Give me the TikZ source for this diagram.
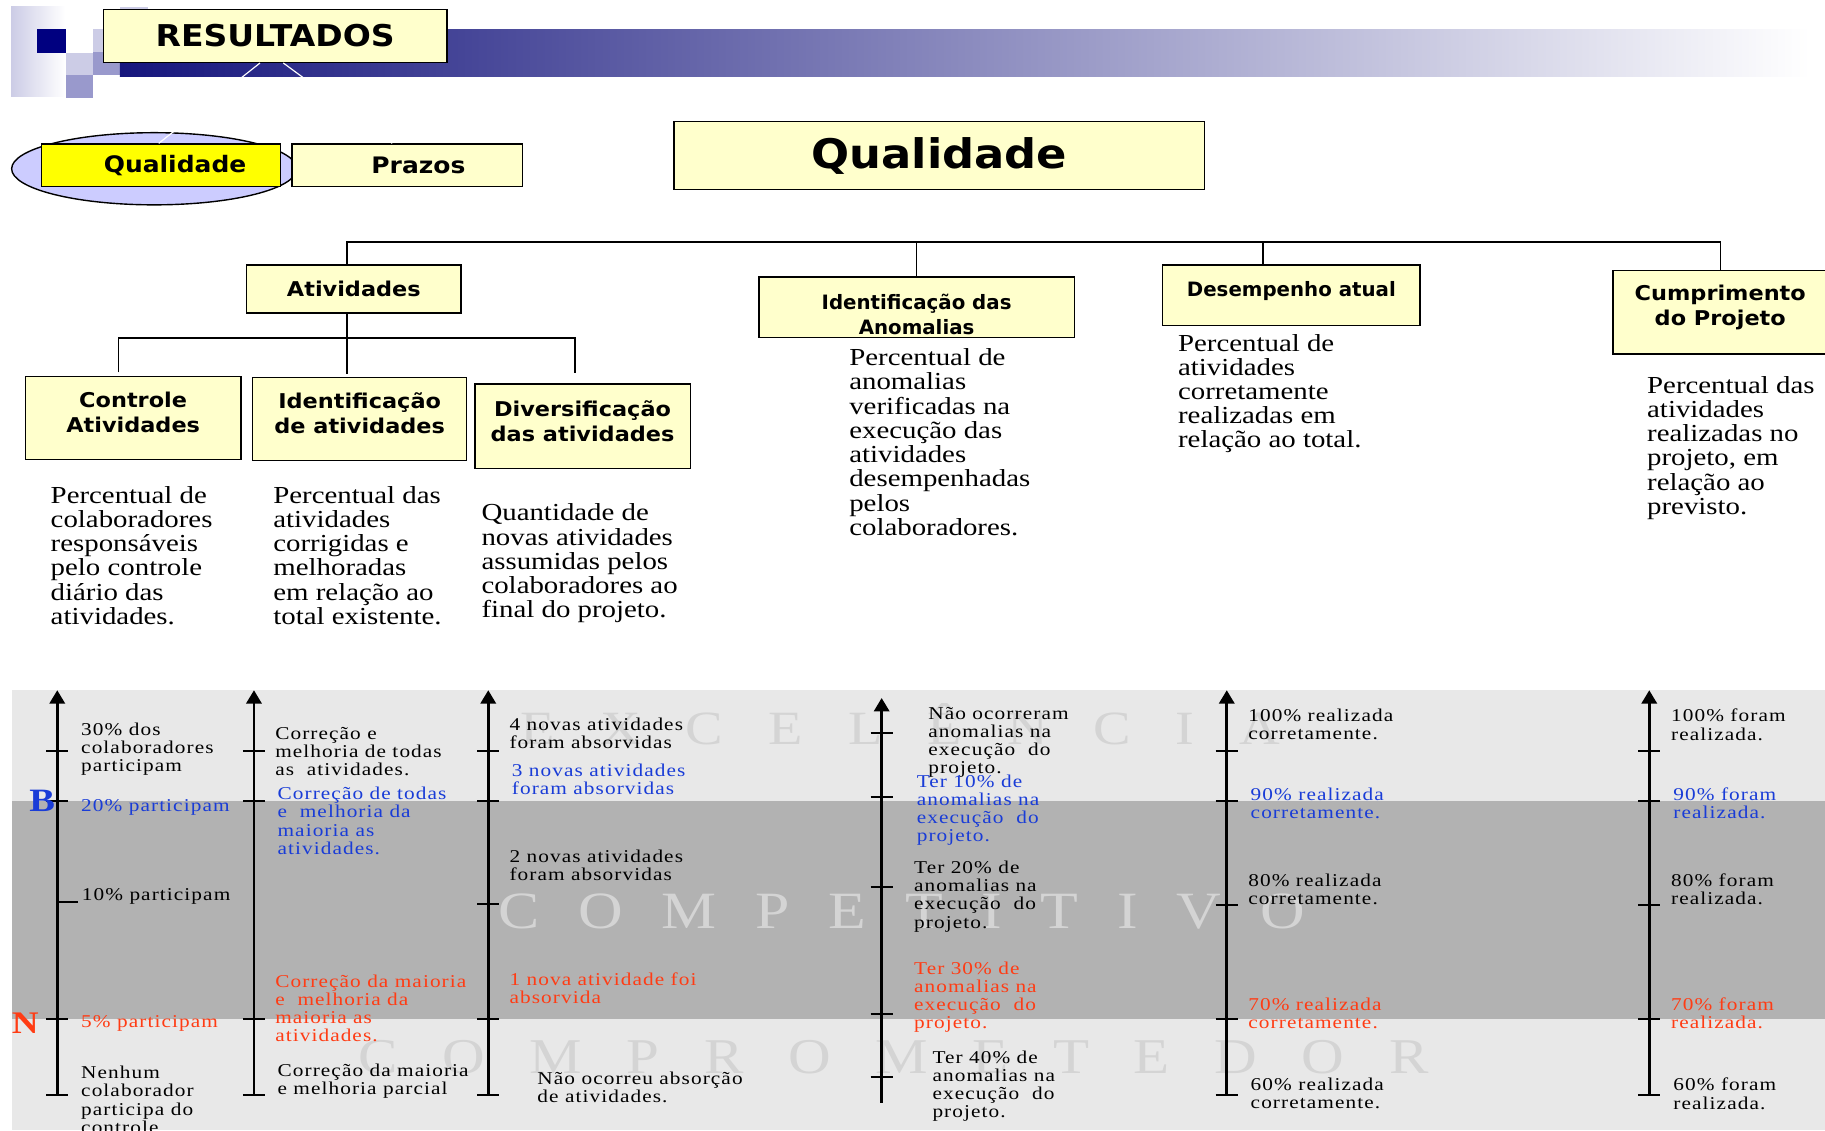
\documentclass[tikz,border=0pt]{standalone}
\usepackage{fontspec}
\setmainfont{Liberation Serif}
\newfontfamily\boxfont[FakeStretch=1.1]{DejaVu Sans}
\newfontfamily\condfont{DejaVu Sans}
\newfontfamily\descfont[FakeStretch=1.18]{Liberation Serif}
\newfontfamily\levelfont[FakeStretch=1.18,LetterSpace=6]{Liberation Serif}
\usetikzlibrary{arrows.meta}

\definecolor{boxyellow}{RGB}{255,255,204}
\definecolor{hiyellow}{RGB}{255,255,0}
\definecolor{lavender}{RGB}{204,204,255}
\definecolor{navyblue}{RGB}{0,0,128}
\definecolor{lilac}{RGB}{204,204,230}
\definecolor{lilacdark}{RGB}{153,153,204}
\definecolor{barleft}{RGB}{22,22,125}
\definecolor{barmid}{RGB}{150,150,185}
\definecolor{bandlight}{RGB}{232,232,232}
\definecolor{banddark}{RGB}{178,178,178}
\definecolor{goodblue}{RGB}{25,60,215}
\definecolor{badred}{RGB}{255,60,20}
\definecolor{wmgray}{RGB}{212,212,212}

\newcommand{\espace}[2]{\gdef\wmsep{}\foreach \lettre in {#2}{\wmsep\lettre\gdef\wmsep{\hspace{#1}}}}

\begin{document}
\begin{tikzpicture}[x=1pt, y=-1pt,
  boite/.style={draw, line width=1.2pt, fill=boxyellow, align=center, inner sep=1pt},
  etiq/.style={font=\boxfont\bfseries\fontsize{17.5}{21.5}\selectfont},
  etiqn/.style={font=\condfont\bfseries\fontsize{17}{21.5}\selectfont},
  lien/.style={line width=1.2pt},
  desc/.style={anchor=west, align=left, inner sep=0pt, font=\descfont\fontsize{21}{20.8}\selectfont},
  niveau/.style={anchor=west, align=left, inner sep=0pt, font=\levelfont\fontsize{15.5}{15.6}\selectfont},
  bon/.style={niveau, text=goodblue},
  mau/.style={niveau, text=badred},
  axe/.style={line width=2.5pt, -{Triangle[length=11.5pt, width=13pt]}},
  marque/.style={line width=1.8pt},
  filigrane/.style={anchor=base west, inner sep=0pt, text=wmgray}]
  \useasboundingbox (0,0) rectangle (1568,971);
  \clip (0,0) rectangle (1568,971);

  % en-tete
  \shade[left color=lilac, right color=white] (9.5,5.7) rectangle (55.8,82.5);
  \fill[navyblue] (31.5,25.2) rectangle (56.4,45.3);
  \fill[lilac] (56.4,45.3) rectangle (79.6,64.4);
  \fill[lilacdark] (56.4,64.4) rectangle (79.6,83.9);
  \fill[lilac] (79.6,25.2) rectangle (103,44.4);
  \fill[lilacdark] (79.6,44.4) rectangle (103,64.4);
  \fill[lilac] (103,5.7) rectangle (126.9,25.2);
  \shade[left color=barleft, middle color=barmid, right color=white] (103,25.2) rectangle (1555,65.3);
  \draw[fill=lavender, line width=1.2pt] (132.5,145) ellipse [x radius=122.5pt, y radius=31pt];

  \node[boite, minimum width=295pt, minimum height=45.5pt,
        font=\boxfont\bfseries\fontsize{25.8}{28}\selectfont] (resul) at (236.4,30.75) {RESULTADOS};
  \node[boite, fill=hiyellow, minimum width=205pt, minimum height=36.3pt,
        font=\boxfont\bfseries\fontsize{19.5}{22}\selectfont] (qualp) at (138.4,141.9) {\hspace*{24pt}Qualidade};
  \node[boite, minimum width=198pt, minimum height=36.3pt,
        font=\boxfont\bfseries\fontsize{19.5}{22}\selectfont] (prazos) at (350,141.9) {\hspace*{19pt}Prazos};
  \draw[white, line width=1pt] ([xshift=-13pt]resul.south) -- ([xshift=-2pt]qualp.north);
  \draw[white, line width=1pt] ([xshift=7pt]resul.south) -- ([xshift=-13pt]prazos.north);

  % arbre
  \node[boite, minimum width=456pt, minimum height=58.5pt,
        font=\boxfont\bfseries\fontsize{35}{38}\selectfont] (qualite) at (807,133.7) {Qualidade};
  \node[boite, etiq, minimum width=184pt, minimum height=41.3pt] (ativ) at (304,248.4) {Atividades};
  \node[boite, etiq, minimum width=185.3pt, minimum height=71pt] (ctrl) at (114.4,359.1) {Controle\\Atividades\\[-11.5pt]\mbox{}};
  \node[boite, etiq, minimum width=184pt, minimum height=71.3pt] (ident) at (309,360.2) {Identificação\\de atividades\\[-11.5pt]\mbox{}};
  \node[boite, etiq, minimum width=185pt, minimum height=72.7pt] (divers) at (500.5,366.4) {Diversificação\\das atividades\\[-11.5pt]\mbox{}};
  \node[boite, etiqn, minimum width=271pt, minimum height=52pt] (anom) at (787.5,264) {\mbox{}\\[3.5pt]Identificação das\\Anomalias};
  \node[boite, etiqn, minimum width=221pt, text height=25.9pt, text depth=24.1pt] (desemp) at (1109.5,253.75) {Desempenho atual};
  \node[boite, etiq, minimum width=184pt, minimum height=71.5pt] (cump) at (1478,268.3) {Cumprimento\\do Projeto\\[-9pt]\mbox{}};

  \coordinate (barre) at (1478,208);
  \draw[lien] ([xshift=-6pt]ativ.north) |- (barre) -- (cump.north);
  \draw[lien] (anom.north) -- (anom.north |- barre);
  \draw[lien] ([xshift=-24.5pt]desemp.north) -- ++(0,-19.7);
  \draw[lien] ([xshift=-6pt]ativ.south) -- ++(0,20.8) coordinate (fourche);
  \draw[lien, shorten <=3pt, shorten >=9pt] ([xshift=-12.4pt]ctrl.north) |- (fourche) -| ([xshift=-6.5pt]divers.north);
  \draw[lien, shorten <=3pt] ([xshift=-11pt]ident.north) -- (fourche);

  % definitions
  \node[desc] (d-ctrl) at (43.4,477.3) {Percentual de\\colaboradores\\responsáveis\\pelo controle\\diário das\\atividades.};
  \node[desc] (d-ident) at (234.7,477.3) {Percentual das\\atividades\\corrigidas e\\melhoradas\\em relação ao\\total existente.};
  \node[desc] (d-divers) at (413.5,484) {Quantidade de\\novas atividades\\assumidas pelos\\colaboradores ao\\final do projeto.};
  \node[desc] (d-anom) at (729.5,379.9) {Percentual de\\anomalias\\verificadas na\\execução das\\atividades\\desempenhadas\\pelos\\colaboradores.};
  \node[desc] (d-desemp) at (1012,338.2) {Percentual de\\atividades\\corretamente\\realizadas em\\relação ao total.};
  \node[desc] (d-cump) at (1415,384.9) {Percentual das\\atividades\\realizadas no\\projeto, em\\relação ao\\previsto.};

  % bandes
  \fill[bandlight] (10,593) rectangle (1568,971);
  \fill[banddark] (10,688) rectangle (1568,875.5);

  % filigrane
  \node[filigrane, font=\descfont\fontsize{41}{41}\selectfont] (excel) at (447,640) {\espace{38.8pt}{E,X,C,E,L,Ê,N,C,I,A}};
  \node[filigrane, font=\descfont\fontsize{45}{45}\selectfont] (compet) at (428,797.5) {\espace{33.3pt}{C,O,M,P,E,T,I,T,I,V,O}};
  \node[filigrane, font=\descfont\fontsize{43}{43}\selectfont] (compro) at (308,922) {\espace{38.3pt}{C,O,M,P,R,O,M,E,T,E,D,O,R}};

  % echelles
  \foreach \x in {49.2,218.2,419.5,1054,1417} {
    \draw[axe] (\x,940.7) -- (\x,593);
    \foreach \y in {645.2,688,875.4,940.7}
      \draw[marque] (\x-9.5,\y) -- (\x+9.5,\y);
  }
  \draw[marque] (49.2,775.2) -- (67.3,775.2);
  \draw[marque] (410,777) -- (429,777);
  \draw[marque] (1044.5,777.5) -- (1063.5,777.5);
  \draw[marque] (1407.5,777.5) -- (1426.5,777.5);
  \draw[axe] (757.5,947.3) -- (757.5,599.7);
  \foreach \y in {629.4,685,761.7,871.4,925}
    \draw[marque] (748,\y) -- (767,\y);

  \node[anchor=base west, inner sep=0pt, text=goodblue,
        font=\descfont\bfseries\fontsize{28}{28}\selectfont] (lettreB) at (25,697.3) {B};
  \node[anchor=base west, inner sep=0pt, text=badred,
        font=\descfont\bfseries\fontsize{27}{27}\selectfont] (lettreN) at (10,887.7) {N};

  % colonne 1
  \node[niveau] (c1a) at (69.6,643.9) {30\% dos\\colaboradores\\participam};
  \node[bon] (c1b) at (69.6,693.9) {20\% participam};
  \node[niveau] (c1c) at (70.2,770.3) {10\% participam};
  \node[mau] (c1d) at (69.6,879) {5\% participam};
  \node[niveau] (c1e) at (69.6,945) {Nenhum\\colaborador\\participa do\\controle};

  % colonne 2
  \node[niveau] (c2a) at (236.3,646) {Correção e\\melhoria de todas\\as\ \ atividades.};
  \node[bon] (c2b) at (238.3,705.2) {Correção de todas\\e\ \ melhoria da\\maioria as\\atividades.};
  \node[mau] (c2c) at (236.3,866.3) {Correção da maioria\\e\ \ melhoria da\\maioria as\\atividades.};
  \node[niveau] (c2d) at (238.3,929.2) {Correção da maioria\\e melhoria parcial};

  % colonne 3
  \node[niveau] (c3a) at (437.6,630.3) {4 novas atividades\\foram absorvidas};
  \node[bon] (c3b) at (439.6,669.6) {3 novas atividades\\foram absorvidas};
  \node[niveau] (c3c) at (437.6,743.5) {2 novas atividades\\foram absorvidas};
  \node[mau] (c3d) at (437.6,849) {1 nova atividade foi\\absorvida};
  \node[niveau] (c3e) at (461.6,934) {Não ocorreu absorção\\de atividades.};

  % colonne 4
  \node[niveau] (c4a) at (797.5,637.7) {Não ocorreram\\anomalias na\\execução\ \ do\\projeto.};
  \node[bon] (c4b) at (787.5,696.2) {Ter 10\% de\\anomalias na\\execução\ \ do\\projeto.};
  \node[niveau] (c4c) at (785.2,770.3) {Ter 20\% de\\anomalias na\\execução\ \ do\\projeto.};
  \node[mau] (c4d) at (785.2,856.6) {Ter 30\% de\\anomalias na\\execução\ \ do\\projeto.};
  \node[niveau] (c4e) at (801,933) {Ter 40\% de\\anomalias na\\execução\ \ do\\projeto.};

  % colonnes 5 et 6
  \foreach \p/\y/\s/\dx [count=\i] in {100/622.7/niveau/0, 90/690.5/bon/2, 80/764.4/niveau/0, 70/870.3/mau/0, 60/939.7/niveau/2} {
    \node[\s] (c5-\i) at (1072.4+\dx,\y) {\p\% realizada\\corretamente.};
    \node[\s] (c6-\i) at (1435.6+\dx,\y) {\p\% foram\\realizada.};
  }
\end{tikzpicture}
\end{document}
